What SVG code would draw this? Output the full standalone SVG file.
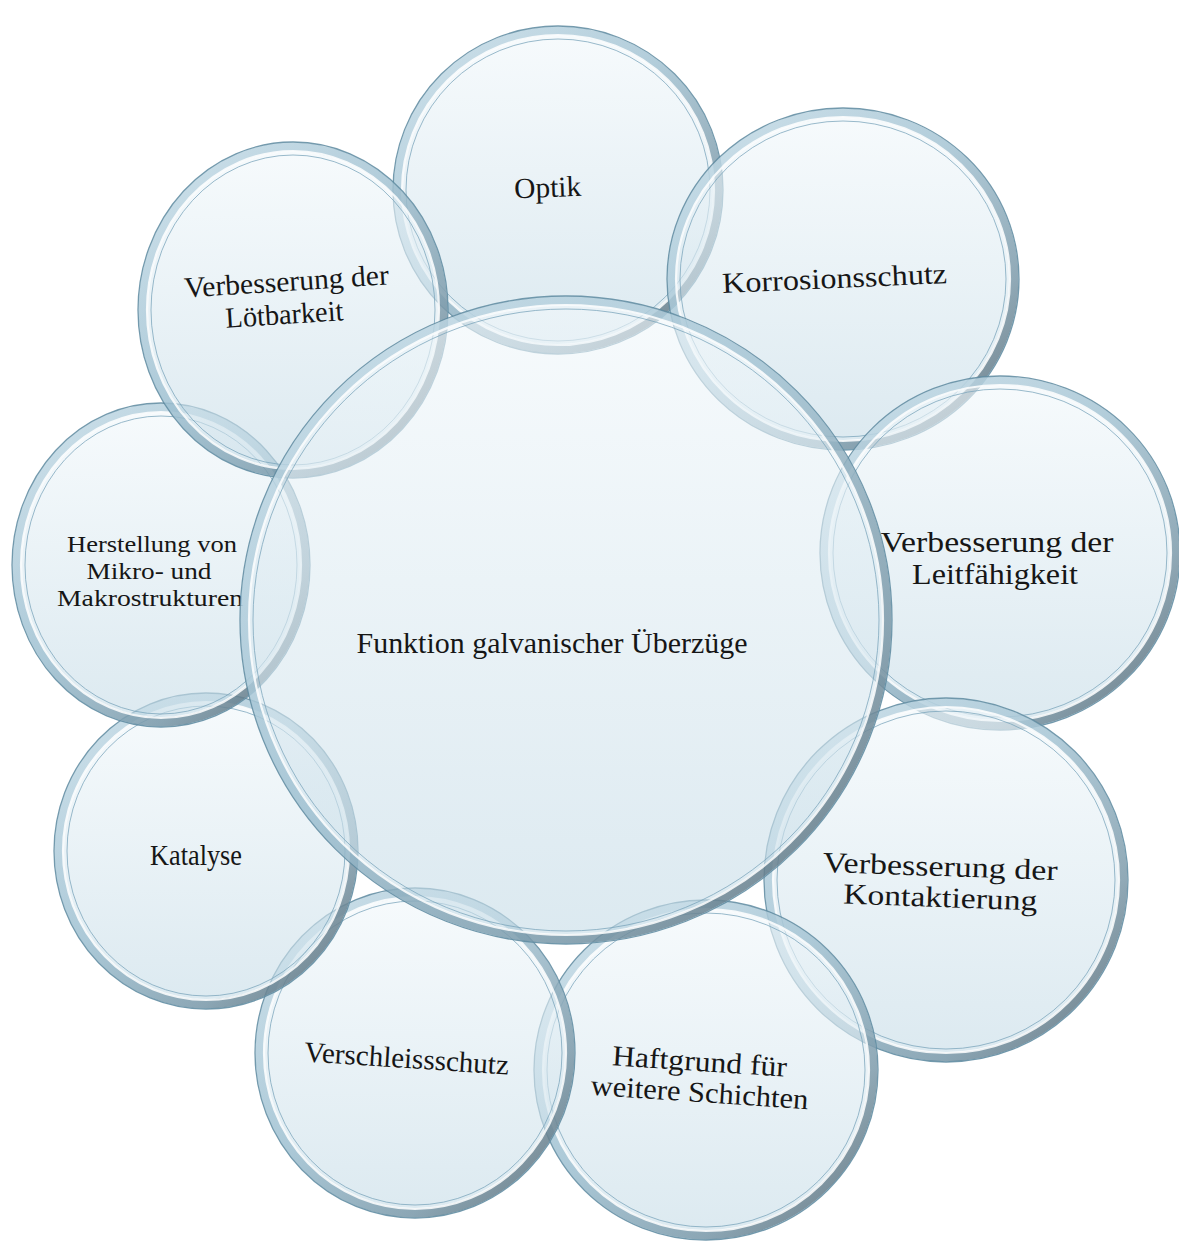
<svg xmlns="http://www.w3.org/2000/svg" width="1179" height="1252" viewBox="0 0 1179 1252">
<defs>
<linearGradient id="rimG" x1="0" y1="0" x2="1" y2="1">
<stop offset="0" stop-color="#b8d4e2"/>
<stop offset="0.45" stop-color="#8ab2c6"/>
<stop offset="0.75" stop-color="#5a7d90"/>
<stop offset="1" stop-color="#1f2e38"/>
</linearGradient>
<linearGradient id="fillG" x1="0" y1="0" x2="0" y2="1">
<stop offset="0" stop-color="#f2f8fb"/>
<stop offset="1" stop-color="#c6dce7"/>
</linearGradient>
</defs>
<style>
.fill{fill:url(#fillG);fill-opacity:0.62;stroke:none}
.rim{fill:none;stroke:url(#rimG);stroke-width:9;stroke-opacity:0.62}
.hl{fill:none;stroke:#ffffff;stroke-width:2.2;stroke-opacity:0.85}
.inner{fill:none;stroke:#78a3b9;stroke-width:1;stroke-opacity:0.75}
.edge{fill:none;stroke:#5c889f;stroke-width:1.3;stroke-opacity:0.85}
.t{font-family:"Liberation Serif","DejaVu Serif",serif;font-size:29px;fill:#161616;text-anchor:middle}
.s{font-size:24px}
</style>
<rect x="0" y="0" width="1179" height="1252" fill="#ffffff"/>

<g id="optik">
<ellipse class="fill" cx="558" cy="190" rx="165" ry="164"/>
<ellipse class="rim" cx="558" cy="190" rx="160" ry="159"/>
<ellipse class="hl" cx="558" cy="190" rx="156" ry="155"/>
<ellipse class="inner" cx="558" cy="190" rx="152" ry="151"/>
<ellipse class="edge" cx="558" cy="190" rx="165" ry="164"/>
<text class="t" x="548" y="197" textLength="67" lengthAdjust="spacingAndGlyphs" transform="rotate(-2 548 197)">Optik</text>
</g>

<g id="korrosion">
<ellipse class="fill" cx="843" cy="279" rx="176" ry="171"/>
<ellipse class="rim" cx="843" cy="279" rx="171" ry="166"/>
<ellipse class="hl" cx="843" cy="279" rx="167" ry="162"/>
<ellipse class="inner" cx="843" cy="279" rx="163" ry="158"/>
<ellipse class="edge" cx="843" cy="279" rx="176" ry="171"/>
<text class="t" x="835" y="288" textLength="225" lengthAdjust="spacingAndGlyphs" transform="rotate(-2.5 835 288)">Korrosionsschutz</text>
</g>

<g id="leitfaehigkeit">
<ellipse class="fill" cx="1000" cy="553" rx="180" ry="177"/>
<ellipse class="rim" cx="1000" cy="553" rx="175" ry="172"/>
<ellipse class="hl" cx="1000" cy="553" rx="171" ry="168"/>
<ellipse class="inner" cx="1000" cy="553" rx="167" ry="164"/>
<ellipse class="edge" cx="1000" cy="553" rx="180" ry="177"/>
<text class="t" x="997" y="552" textLength="233" lengthAdjust="spacingAndGlyphs">Verbesserung der</text>
<text class="t" x="995" y="584" textLength="166" lengthAdjust="spacingAndGlyphs">Leitfähigkeit</text>
</g>

<g id="kontaktierung">
<ellipse class="fill" cx="946" cy="880" rx="182" ry="182"/>
<ellipse class="rim" cx="946" cy="880" rx="177" ry="177"/>
<ellipse class="hl" cx="946" cy="880" rx="173" ry="173"/>
<ellipse class="inner" cx="946" cy="880" rx="169" ry="169"/>
<ellipse class="edge" cx="946" cy="880" rx="182" ry="182"/>
<text class="t" x="940" y="876" textLength="235" lengthAdjust="spacingAndGlyphs" transform="rotate(2 940 876)">Verbesserung der</text>
<text class="t" x="940" y="907" textLength="194" lengthAdjust="spacingAndGlyphs" transform="rotate(2 940 907)">Kontaktierung</text>
</g>

<g id="haftgrund">
<ellipse class="fill" cx="706" cy="1070" rx="172" ry="170"/>
<ellipse class="rim" cx="706" cy="1070" rx="167" ry="165"/>
<ellipse class="hl" cx="706" cy="1070" rx="163" ry="161"/>
<ellipse class="inner" cx="706" cy="1070" rx="159" ry="157"/>
<ellipse class="edge" cx="706" cy="1070" rx="172" ry="170"/>
<text class="t" x="699" y="1071" textLength="175" lengthAdjust="spacingAndGlyphs" transform="rotate(3.8 699 1071)">Haftgrund für</text>
<text class="t" x="699" y="1102" textLength="218" lengthAdjust="spacingAndGlyphs" transform="rotate(3.8 699 1102)">weitere Schichten</text>
</g>

<g id="verschleiss">
<ellipse class="fill" cx="415" cy="1053" rx="160" ry="165"/>
<ellipse class="rim" cx="415" cy="1053" rx="155" ry="160"/>
<ellipse class="hl" cx="415" cy="1053" rx="151" ry="156"/>
<ellipse class="inner" cx="415" cy="1053" rx="147" ry="152"/>
<ellipse class="edge" cx="415" cy="1053" rx="160" ry="165"/>
<text class="t" x="406" y="1068" textLength="205" lengthAdjust="spacingAndGlyphs" transform="rotate(3.7 406 1068)">Verschleissschutz</text>
</g>

<g id="katalyse">
<ellipse class="fill" cx="206" cy="851" rx="152" ry="158"/>
<ellipse class="rim" cx="206" cy="851" rx="147" ry="153"/>
<ellipse class="hl" cx="206" cy="851" rx="143" ry="149"/>
<ellipse class="inner" cx="206" cy="851" rx="139" ry="145"/>
<ellipse class="edge" cx="206" cy="851" rx="152" ry="158"/>
<text class="t" x="196" y="865" textLength="92" lengthAdjust="spacingAndGlyphs">Katalyse</text>
</g>

<g id="herstellung">
<ellipse class="fill" cx="161" cy="565" rx="149" ry="162"/>
<ellipse class="rim" cx="161" cy="565" rx="144" ry="157"/>
<ellipse class="hl" cx="161" cy="565" rx="140" ry="153"/>
<ellipse class="inner" cx="161" cy="565" rx="136" ry="149"/>
<ellipse class="edge" cx="161" cy="565" rx="149" ry="162"/>
<text class="t s" x="152" y="552" textLength="170" lengthAdjust="spacingAndGlyphs">Herstellung von</text>
<text class="t s" x="149" y="579" textLength="125" lengthAdjust="spacingAndGlyphs">Mikro- und</text>
<text class="t s" x="150" y="606" textLength="186" lengthAdjust="spacingAndGlyphs">Makrostrukturen</text>
</g>

<g id="loetbarkeit">
<ellipse class="fill" cx="293" cy="310" rx="155" ry="168"/>
<ellipse class="rim" cx="293" cy="310" rx="150" ry="163"/>
<ellipse class="hl" cx="293" cy="310" rx="146" ry="159"/>
<ellipse class="inner" cx="293" cy="310" rx="142" ry="155"/>
<ellipse class="edge" cx="293" cy="310" rx="155" ry="168"/>
<text class="t" x="287" y="291" textLength="205" lengthAdjust="spacingAndGlyphs" transform="rotate(-3.7 287 291)">Verbesserung der</text>
<text class="t" x="285" y="324" textLength="118" lengthAdjust="spacingAndGlyphs" transform="rotate(-3.7 285 324)">Lötbarkeit</text>
</g>

<g id="zentrum">
<ellipse class="fill" cx="566" cy="620" rx="326" ry="324"/>
<ellipse class="rim" cx="566" cy="620" rx="321" ry="319"/>
<ellipse class="hl" cx="566" cy="620" rx="317" ry="315"/>
<ellipse class="inner" cx="566" cy="620" rx="313" ry="311"/>
<ellipse class="edge" cx="566" cy="620" rx="326" ry="324"/>
<text class="t" x="552" y="653" textLength="391" lengthAdjust="spacingAndGlyphs">Funktion galvanischer Überzüge</text>
</g>

<g id="connectors"></g>
</svg>
